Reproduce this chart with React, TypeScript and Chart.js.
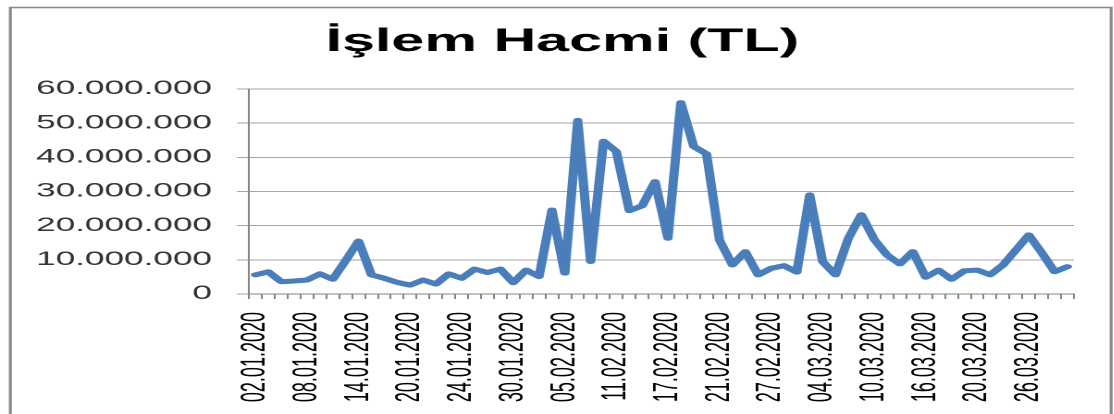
import React, { useEffect, useRef } from "react";
import { Chart, registerables } from "chart.js";

Chart.register(...registerables);

const TITLE = "İşlem Hacmi (TL)";

const DATES: string[] = [
  "02.01.2020", "03.01.2020", "06.01.2020", "07.01.2020", "08.01.2020", "09.01.2020", "10.01.2020", "13.01.2020",
  "14.01.2020", "15.01.2020", "16.01.2020", "17.01.2020", "20.01.2020", "21.01.2020", "22.01.2020", "23.01.2020",
  "24.01.2020", "27.01.2020", "28.01.2020", "29.01.2020", "30.01.2020", "31.01.2020", "03.02.2020", "04.02.2020",
  "05.02.2020", "06.02.2020", "07.02.2020", "10.02.2020", "11.02.2020", "12.02.2020", "13.02.2020", "14.02.2020",
  "17.02.2020", "18.02.2020", "19.02.2020", "20.02.2020", "21.02.2020", "24.02.2020", "25.02.2020", "26.02.2020",
  "27.02.2020", "28.02.2020", "02.03.2020", "03.03.2020", "04.03.2020", "05.03.2020", "06.03.2020", "09.03.2020",
  "10.03.2020", "11.03.2020", "12.03.2020", "13.03.2020", "16.03.2020", "17.03.2020", "18.03.2020", "19.03.2020",
  "20.03.2020", "23.03.2020", "24.03.2020", "25.03.2020", "26.03.2020", "27.03.2020", "30.03.2020", "31.03.2020",
];

const VOLUME: number[] = [
  5600000, 6500000, 3600000, 3800000, 4100000, 5900000, 4300000, 9800000,
  15500000, 5600000, 4600000, 3400000, 2600000, 4100000, 2900000, 5900000,
  4600000, 7300000, 6300000, 7300000, 3300000, 7000000, 5100000, 24600000,
  6100000, 50800000, 9500000, 44700000, 41700000, 24400000, 25800000, 32900000,
  16300000, 56000000, 43200000, 41000000, 15800000, 8500000, 12400000, 5600000,
  7500000, 8300000, 6400000, 29000000, 9500000, 5600000, 16300000, 23200000,
  16000000, 11400000, 8800000, 12400000, 4900000, 7000000, 4300000, 6800000,
  7000000, 5600000, 8500000, 12900000, 17300000, 12100000, 6500000, 8000000,
];

const Y_MIN = 0;
const Y_MAX = 60000000;
const Y_STEP = 10000000;
const LABEL_EVERY = 4;

const SX = 1.85;
const LOGICAL_W = 602;
const LOGICAL_H = 414;
const FONT = "'Liberation Sans', Arial, sans-serif";

function formatTR(v: number): string {
  const s = Math.round(v).toString();
  return s.replace(/\B(?=(\d{3})+(?!\d))/g, ".");
}

const frameAndTitlePlugin = {
  id: "frameAndTitle",
  beforeDraw(chart: any) {
    const ctx = chart.ctx;
    ctx.save();
    ctx.fillStyle = "#ffffff";
    ctx.fillRect(0, 0, chart.width, chart.height);
    ctx.strokeStyle = "#8a8a8a";
    ctx.lineWidth = 1.6;
    ctx.strokeRect(5.6, 7.5, 595, 460);
    ctx.restore();
  },
  afterDraw(chart: any) {
    const ctx = chart.ctx;
    ctx.save();
    ctx.fillStyle = "#000000";
    ctx.font = `bold 32px ${FONT}`;
    ctx.textAlign = "center";
    ctx.textBaseline = "middle";
    ctx.fillText(TITLE, 304, 42);
    ctx.restore();
  },
};

export default function App() {
  const ref = useRef<HTMLCanvasElement | null>(null);

  useEffect(() => {
    if (!ref.current) return;
    const chart = new Chart(ref.current, {
      type: "line",
      data: {
        labels: DATES,
        datasets: [
          {
            data: VOLUME,
            borderColor: "#4a7ebb",
            borderWidth: 5,
            pointRadius: 0,
            tension: 0,
            fill: false,
            borderJoinStyle: "round",
            borderCapStyle: "round",
          },
        ],
      },
      options: {
        animation: false,
        responsive: false,
        devicePixelRatio: 2,
        layout: { padding: { left: 0, right: 21.5, top: 89, bottom: 0 } },
        plugins: {
          legend: { display: false },
          tooltip: { enabled: false },
          title: { display: false },
        },
        scales: {
          x: {
            type: "category",
            offset: true,
            grid: {
              offset: true,
              drawOnChartArea: false,
              drawTicks: true,
              tickLength: 5,
              color: "#868686",
            },
            border: { display: true, color: "#868686", width: 1 },
            ticks: {
              autoSkip: false,
              maxRotation: 90,
              minRotation: 90,
              padding: 13,
              color: "#000000",
              font: { family: FONT, size: 18 },
              callback: (_v: any, i: number) => (i % LABEL_EVERY === 0 ? DATES[i] : ""),
            },
            afterFit: (scale: any) => {
              scale.height = 120;
              scale.paddingLeft = 0;
              scale.paddingRight = 0;
            },
          },
          y: {
            min: Y_MIN,
            max: Y_MAX,
            grid: {
              color: "#a6a6a6",
              lineWidth: 1,
              drawTicks: true,
              tickLength: 6.5,
            },
            border: { display: true, color: "#868686", width: 1 },
            ticks: {
              stepSize: Y_STEP,
              padding: 13.5,
              color: "#333333",
              font: { family: FONT, size: 19 },
              callback: (v: any) => formatTR(Number(v)),
            },
            afterFit: (scale: any) => {
              scale.width = 134.6;
              scale.paddingTop = 0;
              scale.paddingBottom = 0;
            },
          },
        },
      },
      plugins: [frameAndTitlePlugin],
    } as any);
    return () => chart.destroy();
  }, []);

  return (
    <div
      style={{
        position: "absolute",
        left: 0,
        top: 0,
        width: 1114,
        height: 414,
        overflow: "hidden",
        background: "#ffffff",
      }}
    >
      <div
        style={{
          width: LOGICAL_W,
          height: LOGICAL_H,
          transform: `scaleX(${SX})`,
          transformOrigin: "0 0",
        }}
      >
        <canvas
          ref={ref}
          width={LOGICAL_W}
          height={LOGICAL_H}
          style={{ width: LOGICAL_W, height: LOGICAL_H, display: "block" }}
        />
      </div>
    </div>
  );
}
